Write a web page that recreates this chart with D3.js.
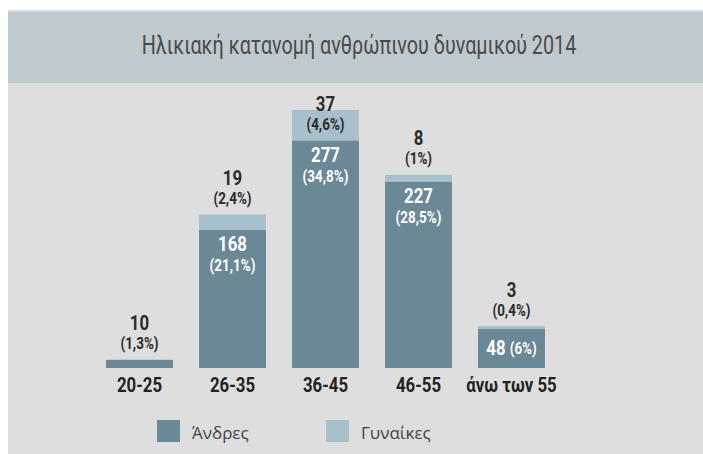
<!DOCTYPE html>
<html>
<head>
<meta charset="utf-8">
<script src="https://cdn.jsdelivr.net/npm/d3@7"></script>
<style>
  body { margin: 0; background: #fff; }
  svg { display: block; }
</style>
</head>
<body>
<svg id="chart" width="703" height="454"></svg>
<script>
var categories = ["20-25", "26-35", "36-45", "46-55", "άνω των 55"];
var men   = [10, 168, 277, 227, 48];
var women = [0, 19, 37, 8, 3];
var menPct   = ["1,3%", "21,1%", "34,8%", "28,5%", "6%"];
var womenPct = ["", "2,4%", "4,6%", "1%", "0,4%"];
var legendLabels = ["Άνδρες", "Γυναίκες"];
var title = "Ηλικιακή κατανομή ανθρώπινου δυναμικού 2014";

var colMen = "#6a8896", colWomen = "#a8c0cc";
var font = "Roboto, 'Liberation Sans', sans-serif";
var squeeze = 0.84; // fake a condensed face

var svg = d3.select("#chart");

// panel + title band
svg.append("rect").attr("x", 8).attr("y", 10).attr("width", 695).attr("height", 444).attr("fill", "#dedede");
svg.append("rect").attr("x", 8).attr("y", 12).attr("width", 695).attr("height", 71).attr("fill", "#bfcacf");
svg.append("text")
    .attr("transform", "translate(359,46) scale(0.76,1)")
    .attr("text-anchor", "middle")
    .attr("dominant-baseline", "central")
    .attr("font-family", font)
    .attr("font-size", 26)
    .attr("fill", "#4a4a4a")
    .text(title);

var data = categories.map(function(c, i) {
  return {cat: c, men: men[i], women: women[i], mp: menPct[i], wp: womenPct[i]};
});

var x = d3.scaleBand()
    .domain(categories)
    .range([93, 558])
    .paddingInner(0.28)
    .paddingOuter(0.14);

var y = d3.scaleLinear()
    .domain([0, d3.max(data, function(d) { return d.men + d.women; })])
    .range([368, 110]);

var g = svg.append("g");

// bars
var bars = g.selectAll(".bar").data(data).enter().append("g").attr("class", "bar");

bars.append("rect")
    .attr("x", function(d) { return x(d.cat); })
    .attr("width", x.bandwidth())
    .attr("y", function(d) { return y(d.men); })
    .attr("height", function(d) { return y(0) - y(d.men); })
    .attr("fill", colMen);

bars.append("rect")
    .attr("x", function(d) { return x(d.cat); })
    .attr("width", x.bandwidth())
    .attr("y", function(d) { return y(d.men + d.women); })
    .attr("height", function(d) { return y(d.men) - y(d.men + d.women); })
    .attr("fill", colWomen);

function narrowText(cx, yy, color) {
  return g.append("text")
    .attr("transform", "translate(" + cx + "," + yy + ") scale(" + squeeze + ",1)")
    .attr("text-anchor", "middle")
    .attr("dominant-baseline", "central")
    .attr("font-family", font)
    .attr("font-weight", "bold")
    .attr("fill", color);
}

// labels
data.forEach(function(d) {
  var cx = x(d.cat) + x.bandwidth() / 2;
  var top = y(d.men + d.women);
  var manTop = y(d.men);
  var manH = y(0) - manTop;

  // value above the bar: women, or men when the bar is too short
  var aboveVal = d.women > 0 ? d.women : d.men;
  var abovePct = d.women > 0 ? d.wp : d.mp;
  var ny = top - 36, py = top - 16;
  if (ny < 95) { ny = top - 5; py = top + 15; }   // no room under the title
  narrowText(cx, ny, "#2b2b2b").attr("font-size", 20).text(aboveVal);
  narrowText(cx, py, "#2b2b2b").attr("font-size", 16).text("(" + abovePct + ")");

  if (d.women > 0) {
    if (manH > 60) {
      narrowText(cx, manTop + 15, "#fff").attr("font-size", 20).text(d.men);
      narrowText(cx, manTop + 36, "#fff").attr("font-size", 16).text("(" + d.mp + ")");
    } else {
      narrowText(cx, (manTop + y(0)) / 2, "#fff").call(function(t) {
        t.append("tspan").attr("font-size", 20).text(d.men + " ");
        t.append("tspan").attr("font-size", 16).text("(" + d.mp + ")");
      });
    }
  }

  narrowText(cx, 386, "#222").attr("font-size", 20).text(d.cat);
});

// legend
var legend = svg.append("g").selectAll("g")
    .data(legendLabels)
    .enter().append("g")
    .attr("transform", function(d, i) { return "translate(" + (157 + i * 169) + ",420)"; });

legend.append("rect")
    .attr("width", 23).attr("height", 22)
    .attr("fill", function(d, i) { return i === 0 ? colMen : colWomen; });

legend.append("text")
    .attr("x", 35).attr("y", 12)
    .attr("dominant-baseline", "central")
    .attr("font-family", "'Open Sans', sans-serif")
    .attr("font-size", 17)
    .attr("fill", "#444")
    .text(function(d) { return d; });
</script>
</body>
</html>
